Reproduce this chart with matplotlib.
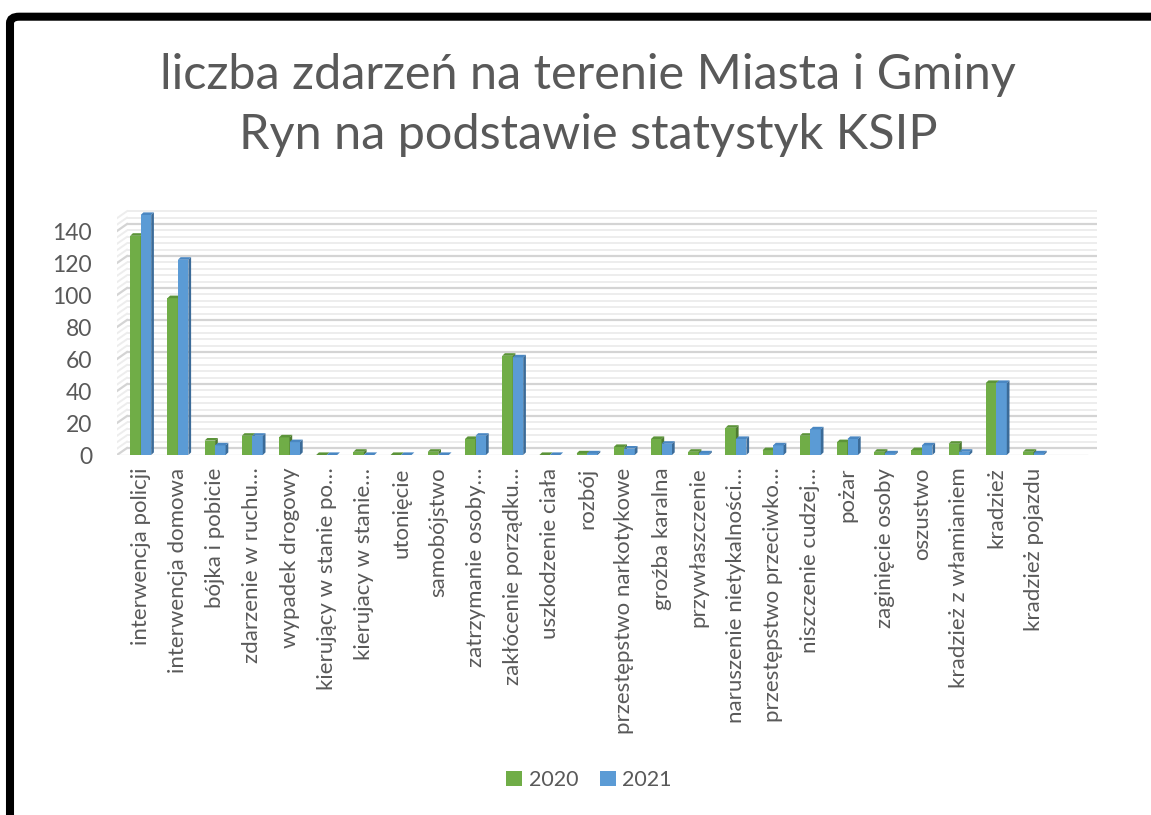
#!/usr/bin/env python3
# Liczba zdarzeń - Ryn, KSIP (Excel-style 3D column chart redone in matplotlib)

import numpy as np
import matplotlib
matplotlib.use('Agg')
import matplotlib.pyplot as plt
from matplotlib.patches import Polygon, Patch, FancyBboxPatch

plt.rcParams['font.family'] = ['Lato', 'DejaVu Sans']

# ---- data ----------------------------------------------------------------
categories = ['interwencja policji', 'interwencja domowa', 'bójka i pobicie',
              'zdarzenie w ruchu…', 'wypadek drogowy', 'kierujący w stanie po…',
              'kierujacy w stanie…', 'utonięcie', 'samobójstwo',
              'zatrzymanie osoby…', 'zakłócenie porządku…', 'uszkodzenie ciała',
              'rozbój', 'przestępstwo narkotykowe', 'groźba karalna',
              'przywłaszczenie', 'naruszenie nietykalności…',
              'przestępstwo przeciwko…', 'niszczenie cudzej…', 'pożar',
              'zaginięcie osoby', 'oszustwo', 'kradzież z włamianiem',
              'kradzież', 'kradzież pojazdu']
v2020 = [137, 98, 9, 12, 11, 0, 2, 0, 2, 10, 62, 0, 1, 5, 10, 2, 17, 3, 12, 8, 2, 3, 7, 45, 2]
v2021 = [150, 122, 6, 12, 8, 0, 0, 0, 0, 12, 61, 0, 1, 4, 7, 1, 10, 6, 16, 10, 1, 6, 2, 45, 1]
series_names = ['2020', '2021']
yticks = [0, 20, 40, 60, 80, 100, 120, 140]

title = 'liczba zdarzeń na terenie Miasta i Gminy\nRyn na podstawie statystyk KSIP'

# ---- style ---------------------------------------------------------------
txt_col = '#595959'
front_col = ['#70AD47', '#5B9BD5']
top_col = ['#5c9439', '#4a87c2']
side_col = ['#4d7a30', '#3b6b98']

W, H = 1151, 815
fig = plt.figure(figsize=(W / 100, H / 100), dpi=100)

# axes placed in pixel terms: front-left wall edge x=117, back-right x=1097,
# value 0 at y=455, 1.6 px per unit
px_left, px_right = 117, 1097
px_zero, px_top = 455, 205
ax = fig.add_axes([px_left / W, 1 - px_zero / H,
                   (px_right - px_left) / W, (px_zero - px_top) / H])
cat_px = 37.2
x0 = (px_left - 140.7) / cat_px
x1 = (px_right - 140.7) / cat_px
ppu = 1.6
ax.set_xlim(x0, x1)
ax.set_ylim(0, (px_zero - px_top) / ppu)
for s in ax.spines.values():
    s.set_visible(False)

# back wall / side wall offsets (data units)
wall_dx = 10 / cat_px
wall_dy = 7 / ppu
gmax = 148
for v in np.arange(0, gmax + 1, 4):
    major = (v % 20 == 0)
    col = '#d4d4d4' if major else '#ededed'
    lw = 1.6 if major else 1.4
    ax.plot([x0 + wall_dx, x1], [v + wall_dy, v + wall_dy], color=col, lw=lw,
            zorder=1, solid_capstyle='butt')
    ax.plot([x0, x0 + wall_dx], [v, v + wall_dy], color=col, lw=lw, zorder=1)
# floor front edge
ax.plot([x0, x1 - wall_dx], [0, 0], color='#e3e3e3', lw=1.0, zorder=1)

# bars with fake depth
bw = 10.5 / cat_px
bdx = 2.7 / cat_px
bdy = 2.6 / ppu
x = np.arange(len(categories))
for si, vals in enumerate([v2020, v2021]):
    offs = (si - 0.5) * bw
    ax.bar(x + offs, vals, width=bw, color=front_col[si], zorder=3 + si,
           linewidth=0)
    for xi, val in zip(x, vals):
        l = xi + offs - bw / 2
        r = xi + offs + bw / 2
        top = Polygon([(l, val), (r, val), (r + bdx, val + bdy), (l + bdx, val + bdy)],
                      closed=True, facecolor=top_col[si], edgecolor='none',
                      zorder=3 + si)
        side = Polygon([(r, 0), (r + bdx, bdy), (r + bdx, val + bdy), (r, val)],
                       closed=True, facecolor=side_col[si], edgecolor='none',
                       zorder=3 + si)
        ax.add_patch(top)
        ax.add_patch(side)

ax.set_xticks(x)
ax.set_xticklabels(categories, rotation=90, fontsize=16, color=txt_col)
ax.set_yticks(yticks)
ax.set_yticklabels([str(t) for t in yticks], fontsize=16.5, color=txt_col)
ax.tick_params(axis='both', length=0)
ax.tick_params(axis='y', pad=18)
ax.tick_params(axis='x', pad=9)

# title
fig.text(588 / W, 1 - 105 / H, title, ha='center', va='center', fontsize=35,
         color=txt_col, fontweight='normal', linespacing=1.42)

# legend
handles = [Patch(facecolor=front_col[i], edgecolor='none') for i in range(2)]
leg = fig.legend(handles, series_names, loc='center', ncol=2, frameon=False,
                 bbox_to_anchor=(589 / W, 1 - 780 / H), fontsize=15.5,
                 handlelength=0.75, handleheight=0.75, handletextpad=0.3,
                 columnspacing=1.0)
for t in leg.get_texts():
    t.set_color(txt_col)

# black chart frame, running off the right and bottom edges
frame = FancyBboxPatch((10 / W, -0.2), 1.3, (H - 16.7) / H + 0.2,
                       boxstyle='round,pad=0,rounding_size=0.008',
                       transform=fig.transFigure, facecolor='none',
                       edgecolor='black', linewidth=5.8, zorder=10)
fig.patches.append(frame)

plt.savefig('out.png', dpi=100)
